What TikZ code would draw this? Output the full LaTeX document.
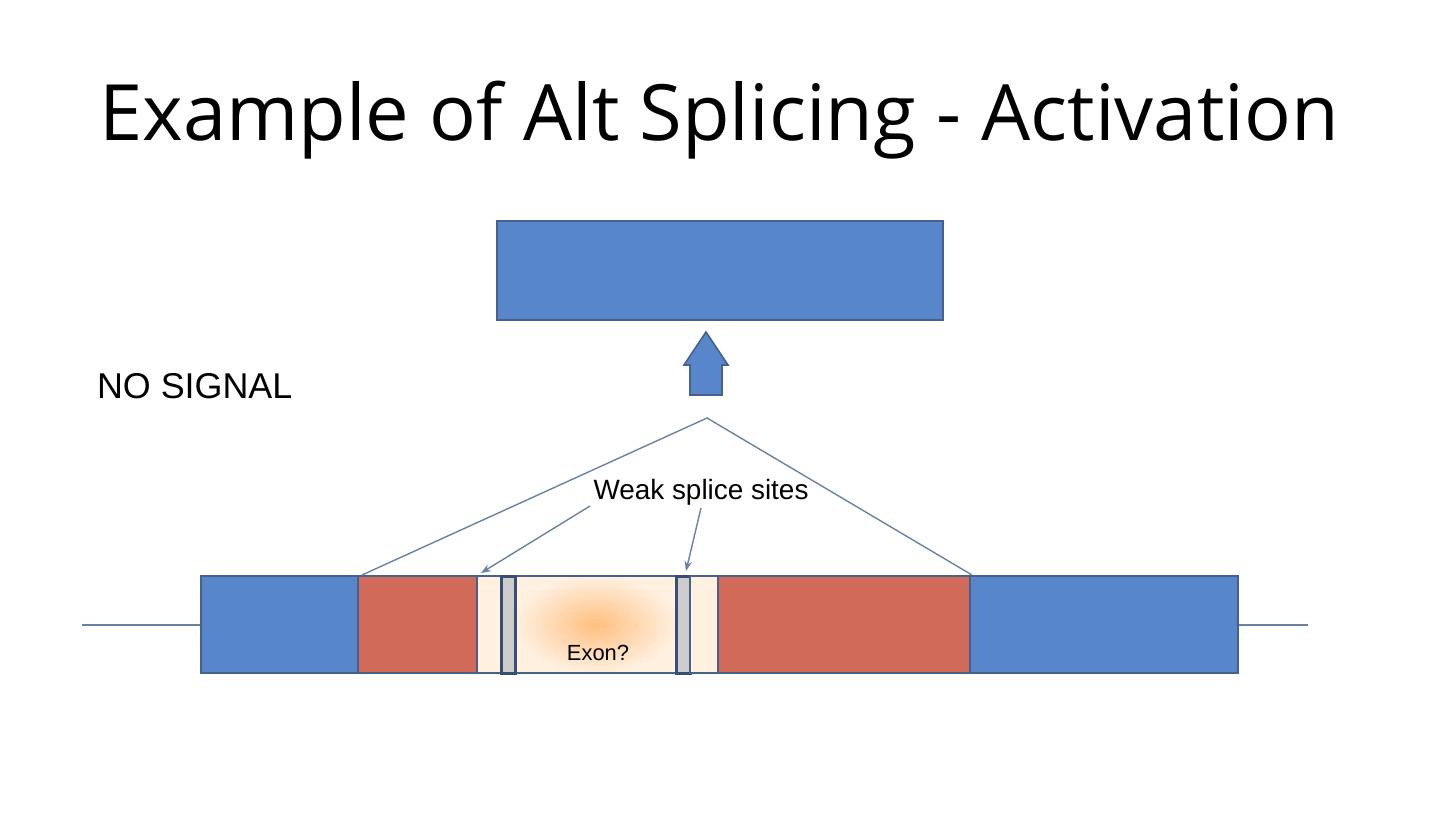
\documentclass[tikz,border=0pt]{standalone}
\usepackage{fontspec}
\setmainfont{Open Sans}
\setsansfont{Liberation Sans}
\usetikzlibrary{arrows.meta}

\definecolor{blk}{HTML}{5787CA}
\definecolor{redint}{HTML}{D26A5A}
\definecolor{edge}{HTML}{46618C}
\begin{document}
\begin{tikzpicture}[x=0.5bp, y=-0.5bp,
  block/.style={draw=edge, line width=1pt},
  exonblue/.style={block, fill=blk},
  intron/.style={block, fill=redint},
  pale/.style={block, fill=orange!12},
  site/.style={block, fill=gray!40, draw=edge!80!black, line width=1.5pt},
  thin/.style={draw=edge!80, line width=0.7pt}]
\useasboundingbox (0,0) rectangle (1440,823);

\node (title) at (719,120) {\fontsize{39}{46}\selectfont Example of Alt Splicing - Activation};
\node[anchor=west, font=\sffamily\fontsize{18}{21}\selectfont] (signal) at (90,386) {NO SIGNAL};

% product
\draw[exonblue] (497,221) rectangle (943,320);
\draw[exonblue, line width=0.8pt] (690,395) -- (690,365) -- (684,365) -- (706,332)
  -- (728,365) -- (722,365) -- (722,395) -- cycle;

% gene
\draw[thin] (82,625) -- (1308,625);
\draw[exonblue] (201,576) rectangle (358,673);
\draw[intron] (358,576) rectangle (477,673);
\draw[pale] (477,576) rectangle (501,673);
\shade[inner color=orange!50, outer color=orange!12] (515,576) rectangle (676,673);
\draw[block] (515,576) rectangle (676,673);
\draw[site] (501,576) rectangle (515,673);
\draw[site] (676,576) rectangle (690,673);
\draw[pale] (690,576) rectangle (718,673);
\draw[intron] (718,576) rectangle (970,673);
\draw[exonblue] (970,576) rectangle (1238,673);
\node[font=\sffamily\fontsize{11}{13}\selectfont] (exon) at (598,653) {Exon?};

% splice lines
\coordinate (left) at (362,575);
\coordinate (apex) at (707,418);
\coordinate (right) at (972,575);
\draw[thin] (left) -- (apex) -- (right);
\node[font=\sffamily\fontsize{14}{16}\selectfont] (weak) at (701,492) {Weak splice sites};
\coordinate (siteA) at (481,573);
\coordinate (siteB) at (686,571);
\draw[thin, -{Stealth[length=5pt]}] (590,506) -- (siteA);
\draw[thin, -{Stealth[length=5pt]}] (701,508) -- (siteB);
\end{tikzpicture}
\end{document}
